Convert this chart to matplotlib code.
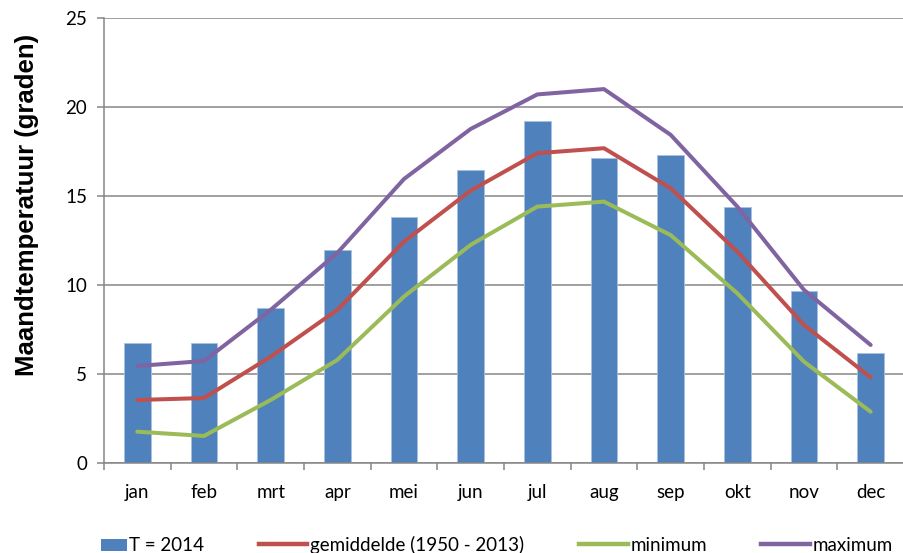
import matplotlib.pyplot as plt
import numpy as np
from matplotlib.legend_handler import HandlerPatch
from matplotlib.lines import Line2D
from matplotlib.patches import Patch, Rectangle

plt.rcParams["font.family"] = ["Lato", "DejaVu Sans"]

MONTHS = ["jan", "feb", "mrt", "apr", "mei", "jun", "jul", "aug", "sep", "okt", "nov", "dec"]
T2014 = [6.72, 6.72, 8.72, 11.97, 13.80, 16.46, 19.22, 17.12, 17.30, 14.36, 9.68, 6.16]
GEMIDDELDE = [3.54, 3.65, 5.97, 8.60, 12.43, 15.30, 17.40, 17.68, 15.43, 11.87, 7.75, 4.81]
MINIMUM = [1.76, 1.52, 3.54, 5.79, 9.35, 12.25, 14.40, 14.68, 12.80, 9.53, 5.69, 2.88]
MAXIMUM = [5.45, 5.73, 8.60, 11.80, 15.95, 18.76, 20.70, 21.00, 18.43, 14.40, 9.72, 6.63]

BLUE, RED, GREEN, PURPLE = "#4F81BD", "#C0504D", "#9BBB59", "#8064A2"
GRID = "#868686"
LW = 2.9


def short_box(legend, orig_handle, xdescent, ydescent, width, height, fontsize):
    # Excel draws the bar swatch about half as wide as the line swatches
    w = width * 0.52
    return Rectangle((width - w - xdescent, -ydescent - height * 0.05), w, height * 0.95)


fig = plt.figure(figsize=(9.04, 5.53), dpi=100)
ax = fig.add_axes([0.115, 0.1627, 0.885, 0.805])
x = np.arange(len(MONTHS))

ax.bar(x, T2014, width=0.4, color=BLUE, edgecolor="#a9c1e0", linewidth=0.6, zorder=2)
ax.plot(x, GEMIDDELDE, color=RED, lw=LW, zorder=3, solid_capstyle="round")
ax.plot(x, MINIMUM, color=GREEN, lw=LW, zorder=3, solid_capstyle="round")
ax.plot(x, MAXIMUM, color=PURPLE, lw=LW, zorder=3, solid_capstyle="round")

ax.set_xlim(-0.5, len(MONTHS) - 0.5)
ax.set_ylim(0, 25)
ax.set_yticks(range(0, 26, 5))
ax.yaxis.grid(True, color=GRID, lw=1.1, zorder=0)
ax.set_axisbelow(True)
ax.set_xticks(x)
ax.set_xticklabels(MONTHS)
ax.set_xticks(np.arange(-0.5, len(MONTHS)), minor=True)
ax.tick_params(axis="x", which="major", length=0, pad=15, labelsize=13.5)
ax.tick_params(axis="x", which="minor", length=5, color=GRID, width=1.1)
ax.tick_params(axis="y", length=5, color=GRID, width=1.1, pad=7, labelsize=13.5)
for side in ("top", "right"):
    ax.spines[side].set_visible(False)
for side in ("left", "bottom"):
    ax.spines[side].set_color(GRID)
    ax.spines[side].set_linewidth(1.1)

ax.set_ylabel("Maandtemperatuur (graden)", fontsize=18.5, fontweight="bold",
              family=["Liberation Sans", "DejaVu Sans"], va="center")
ax.yaxis.set_label_coords(-0.096, 0.58)

handles = [
    Patch(facecolor=BLUE, label="T = 2014"),
    Line2D([], [], color=RED, lw=LW + 0.3, label="gemiddelde (1950 - 2013)"),
    Line2D([], [], color=GREEN, lw=LW + 0.3, label="minimum"),
    Line2D([], [], color=PURPLE, lw=LW + 0.3, label="maximum"),
]
fig.legend(handles=handles, loc="center", bbox_to_anchor=(0.537, 0.015), ncol=4,
           frameon=False, fontsize=13.5, handlelength=2.6, handletextpad=0.15,
           columnspacing=2.9,
           handler_map={Patch: HandlerPatch(patch_func=short_box)})

fig.savefig("out.png", dpi=100)
